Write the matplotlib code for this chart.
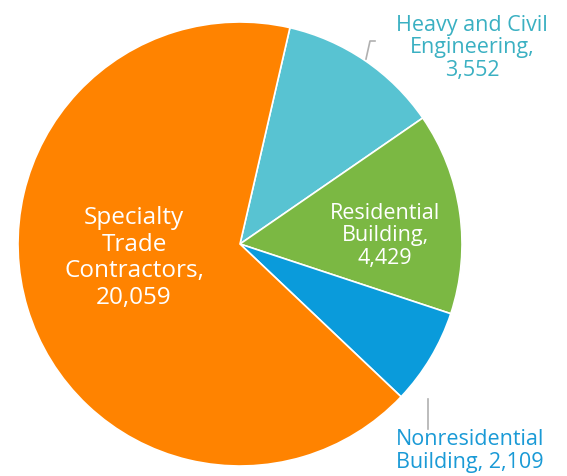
import matplotlib.pyplot as plt

# slices in drawing order (clockwise from the top)
labels = ["Heavy and Civil\nEngineering,\n3,552", "Residential\nBuilding,\n4,429",
          "Nonresidential\nBuilding, 2,109", "Specialty\nTrade\nContractors,\n20,059"]
values = [3552, 4429, 2109, 20059]
colors = ["#58C3D2", "#7BB843", "#0A9BDB", "#FF8300"]

W, H = 567, 477
fig = plt.figure(figsize=(W / 100, H / 100), dpi=100)
ax = fig.add_axes([0, 0, 1, 1])

cx, cy, r = 240, H - 245, 222
ax.pie(values, colors=colors, startangle=77, counterclock=False,
       center=(cx, cy), radius=r,
       wedgeprops=dict(edgecolor="white", linewidth=1.2))
ax.set_xlim(0, W)
ax.set_ylim(0, H)
ax.set_aspect("equal")
ax.axis("off")

font = "Open Sans"
# inside labels
ax.text(134, H - 258, labels[3], ha="center", va="center", color="white",
        fontsize=17.5, family=font, linespacing=1.15)
ax.text(385, H - 236, labels[1], ha="center", va="center", color="white",
        fontsize=15.5, family=font, linespacing=1.12)
# outside labels
ax.text(472, H - 48, labels[0], ha="center", va="center", color="#3AB0C2",
        fontsize=15.5, family=font, linespacing=1.12)
ax.text(396, H - 451, labels[2], ha="left", va="center", color="#1A9AD6",
        fontsize=15.5, family=font, linespacing=1.12)

# leader lines
ax.plot([375, 370, 366], [H - 42, H - 42, H - 60], color="#B0B0B0", lw=1.2)
ax.plot([428, 428], [H - 400, H - 430], color="#B0B0B0", lw=1.2)

fig.savefig("out.png", dpi=100)
